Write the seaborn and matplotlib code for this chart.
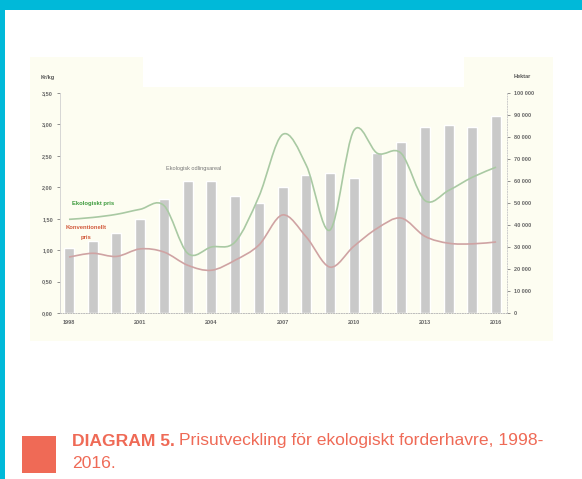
import numpy as np
import pandas as pd
import matplotlib
matplotlib.use("Agg")
import matplotlib.pyplot as plt
import seaborn as sns
from matplotlib.patches import Rectangle, PathPatch
from matplotlib.path import Path
from matplotlib.ticker import FuncFormatter

# data
years = list(range(1998, 2017))
areal_ha = [29500, 32700, 36400, 42700, 51800, 60000, 60000, 53200, 50000, 57300,
            62700, 63600, 61400, 72700, 77700, 84500, 85500, 84500, 89500]
eko_pris = [1.49, 1.52, 1.57, 1.65, 1.71, 0.95, 1.05, 1.13, 1.85, 2.84,
            2.35, 1.32, 2.90, 2.54, 2.54, 1.79, 1.95, 2.16, 2.32]
konv_pris = [0.89, 0.95, 0.90, 1.02, 0.97, 0.76, 0.68, 0.84, 1.08, 1.56,
             1.21, 0.73, 1.06, 1.35, 1.51, 1.22, 1.11, 1.10, 1.13]
year_labels = ["1998", "2001", "2004", "2007", "2010", "2013", "2016"]

W, H = 582, 479

def fx(x):
    return x / W

def fy(y):
    return 1 - y / H

def smooth_path(xs, ys):
    # cubic bezier through the points (like a smoothed line in a spreadsheet)
    pts = np.column_stack([xs, ys]).astype(float)
    verts = [pts[0]]
    codes = [Path.MOVETO]
    n = len(pts)
    for i in range(n - 1):
        p0 = pts[max(i - 1, 0)]
        p1 = pts[i]
        p2 = pts[i + 1]
        p3 = pts[min(i + 2, n - 1)]
        c1 = p1 + (p2 - p0) / 6
        c2 = p2 - (p3 - p1) / 6
        verts += [c1, c2, p2]
        codes += [Path.CURVE4] * 3
    return Path(verts, codes)

sns.set_style("white")
plt.rcParams['font.family'] = ['Liberation Sans', 'DejaVu Sans']

fig = plt.figure(figsize=(W / 100, H / 100), dpi=100)

# page decoration
cyan = '#00b9d9'
fig.add_artist(Rectangle((0, fy(10)), 1, 10 / H, transform=fig.transFigure, color=cyan, lw=0))
fig.add_artist(Rectangle((0, 0), fx(5), 1, transform=fig.transFigure, color=cyan, lw=0))
fig.add_artist(Rectangle((fx(30), fy(341)), fx(523), 284 / H, transform=fig.transFigure,
                         color='#fdfdf1', lw=0, zorder=0))
fig.add_artist(Rectangle((fx(143), fy(87)), fx(321), 30 / H, transform=fig.transFigure,
                         color='white', lw=0, zorder=0))

ax = fig.add_axes([fx(60), fy(313), fx(447), 220 / H])
ax.set_facecolor('none')

df = pd.DataFrame({'year': years, 'areal': areal_ha})
sns.barplot(data=df, x='year', y='areal', ax=ax, color='#c9c9c9', saturation=1,
            width=0.42, zorder=1)
ax.set_xlabel("")
ax.set_ylabel("")

ax2 = ax.twinx()

# hectares on the right, prices on the left
ax.yaxis.tick_right()
ax2.yaxis.tick_left()
ax.set_xlim(-0.38, 18.46)
ax.set_ylim(0, 100000)
ax.set_yticks(range(0, 100001, 10000))
ax.yaxis.set_major_formatter(FuncFormatter(lambda v, p: f"{int(v):,}".replace(",", " ")))
ax.set_xticks(range(0, 19, 3))
ax.set_xticklabels(year_labels)

ax2.set_ylim(0, 3.5)
ax2.set_yticks(np.arange(0, 3.51, 0.5))
ax2.yaxis.set_major_formatter(FuncFormatter(lambda v, p: f"{v:.2f}".replace(".", ",")))

xs = np.arange(len(years))
ax2.add_patch(PathPatch(smooth_path(xs, eko_pris), fill=False, ec='#a9c9a3', lw=1.2, zorder=3))
ax2.add_patch(PathPatch(smooth_path(xs, konv_pris), fill=False, ec='#cfa3a3', lw=1.2, zorder=3))

for a in (ax, ax2):
    for s in a.spines.values():
        s.set_visible(False)
    a.tick_params(labelsize=4, colors='#666666', length=2, width=0.5, pad=3)
ax.spines['bottom'].set_visible(True)
ax.spines['bottom'].set_color('#bbbbbb')
ax.spines['bottom'].set_linestyle(':')
ax.spines['bottom'].set_linewidth(0.7)
ax.spines['right'].set_visible(True)
ax.spines['right'].set_color('#cccccc')
ax.spines['right'].set_linestyle(':')
ax.spines['right'].set_linewidth(0.7)
ax2.spines['left'].set_visible(True)
ax2.spines['left'].set_color('#d0d0d0')
ax2.spines['left'].set_linewidth(0.6)
for lab in ax.get_xticklabels() + ax.get_yticklabels() + ax2.get_yticklabels():
    lab.set_fontweight('bold')

# axis titles and series labels
fig.text(fx(48), fy(77), "Kr/kg", fontsize=4, fontweight='bold', color='#555555', ha='center', va='center')
fig.text(fx(522), fy(77), "Hektar", fontsize=4, fontweight='bold', color='#555555', ha='center', va='center')
fig.text(fx(194), fy(168), "Ekologisk odlingsareal", fontsize=4, color='#777777', ha='center', va='center')
fig.text(fx(93), fy(204), "Ekologiskt pris", fontsize=4.2, fontweight='bold', color='#3e9b3e', ha='center', va='center')
fig.text(fx(86), fy(228), "Konventionellt", fontsize=4.2, fontweight='bold', color='#d25a3c', ha='center', va='center')
fig.text(fx(86), fy(237), "pris", fontsize=4.2, fontweight='bold', color='#d25a3c', ha='center', va='center')

# caption
coral = '#ef6a56'
fig.add_artist(Rectangle((fx(22), fy(473)), fx(34), 37 / H, transform=fig.transFigure, color=coral, lw=0))
t1 = fig.text(fx(72), fy(441), "DIAGRAM 5.", fontsize=12.6, fontweight='bold', color=coral, va='center')
fig.canvas.draw()
bb = t1.get_window_extent()
fig.text(bb.x1 / W + fx(4), fy(441), "Prisutveckling för ekologiskt forderhavre, 1998-",
         fontsize=12.6, color=coral, va='center')
fig.text(fx(72), fy(463), "2016.", fontsize=12.6, color=coral, va='center')

fig.savefig("out.png", dpi=100)
